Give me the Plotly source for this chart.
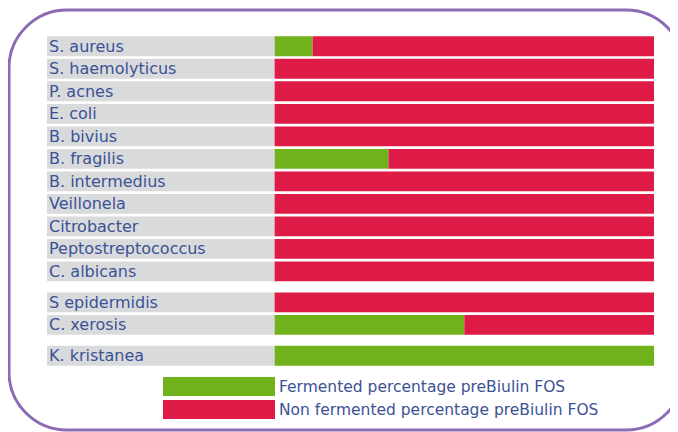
import plotly.graph_objects as go

# ---- data ----
groups = [
    ["S. aureus", "S. haemolyticus", "P. acnes", "E. coli", "B. bivius",
     "B. fragilis", "B. intermedius", "Veillonela", "Citrobacter",
     "Peptostreptococcus", "C. albicans"],
    ["S epidermidis", "C. xerosis"],
    ["K. kristanea"],
]
fermented = [10, 0, 0, 0, 0, 30, 0, 0, 0, 0, 0, 0, 50, 100]
series_names = ["Fermented percentage preBiulin FOS",
                "Non fermented percentage preBiulin FOS"]

# ---- styling ----
GREEN = "#70b21b"
RED = "#de1a46"
GRAY = "#d9dadc"
TEXT = "#3b5295"
PURPLE = "#8a6bb4"
FONT = "DejaVu Sans"
FS = 16
FS_LEG = 15.5
GAP = 0.375
LABEL_SPAN = 60
OFF = 8  # page body margin

categories = []
ypos = []
p = 0.0
for gi, g in enumerate(groups):
    if gi > 0:
        p += GAP
    for c in g:
        categories.append(c)
        ypos.append(p)
        p += 1
non_fermented = [100 - v for v in fermented]

W, H = 678 - OFF, 432 - OFF
ML, MT = 47 - OFF, 35 - OFF
MR = W - (654 - OFF)
MB = H - (367 - OFF)
PW, PH = W - ML - MR, H - MT - MB

fig = go.Figure()
fig.add_trace(go.Bar(y=ypos, x=[LABEL_SPAN] * len(ypos), base=[-LABEL_SPAN] * len(ypos),
                     orientation="h", marker=dict(color=GRAY, line=dict(width=0)),
                     width=0.88, showlegend=False, hoverinfo="skip"))
fig.add_trace(go.Bar(y=ypos, x=fermented, orientation="h", name=series_names[0],
                     marker=dict(color=GREEN, line=dict(width=0)), width=0.88,
                     showlegend=False))
fig.add_trace(go.Bar(y=ypos, x=non_fermented, base=fermented, orientation="h",
                     name=series_names[1],
                     marker=dict(color=RED, line=dict(width=0)), width=0.88,
                     showlegend=False))

for c, y in zip(categories, ypos):
    fig.add_annotation(x=-LABEL_SPAN, y=y, xref="x", yref="y", text=c,
                       showarrow=False, xanchor="left", yanchor="middle",
                       font=dict(family=FONT, size=FS, color=TEXT))


def px2paper(px, py):
    # px, py in reference-page pixels
    return (px - OFF - ML) / PW, (H - MB - (py - OFF)) / PH


def pt(px, py):
    x, y = px2paper(px, py)
    return f"{x:.5f},{y:.5f}"


# rounded border
L_, T_, R_, B_ = 9, 10, 684, 430
r = 58
k = 0.5523 * r
path = (f"M {pt(L_ + r, T_)} L {pt(R_ - r, T_)} "
        f"C {pt(R_ - r + k, T_)} {pt(R_, T_ + r - k)} {pt(R_, T_ + r)} "
        f"L {pt(R_, B_ - r)} "
        f"C {pt(R_, B_ - r + k)} {pt(R_ - r + k, B_)} {pt(R_ - r, B_)} "
        f"L {pt(L_ + r, B_)} "
        f"C {pt(L_ + r - k, B_)} {pt(L_, B_ - r + k)} {pt(L_, B_ - r)} "
        f"L {pt(L_, T_ + r)} "
        f"C {pt(L_, T_ + r - k)} {pt(L_ + r - k, T_)} {pt(L_ + r, T_)} Z")
fig.add_shape(type="path", path=path, xref="paper", yref="paper",
              line=dict(color=PURPLE, width=3), layer="below")

# legend (manual, large swatches)
for i, (name, col) in enumerate(zip(series_names, [GREEN, RED])):
    top = 377 + i * 23
    x0, y1 = px2paper(163, top)
    x1, y0 = px2paper(275, top + 19)
    fig.add_shape(type="rect", xref="paper", yref="paper", x0=x0, x1=x1,
                  y0=y0, y1=y1, fillcolor=col, line=dict(width=0))
    tx, ty = px2paper(277, top + 9.5)
    fig.add_annotation(x=tx, y=ty, xref="paper", yref="paper", text=name,
                       showarrow=False, xanchor="left", yanchor="middle",
                       font=dict(family=FONT, size=FS_LEG, color=TEXT))

fig.update_layout(
    width=W, height=H, barmode="overlay",
    margin=dict(l=ML, r=MR, t=MT, b=MB),
    paper_bgcolor="white", plot_bgcolor="white",
    xaxis=dict(range=[-LABEL_SPAN, 100], showgrid=False, zeroline=False,
               showticklabels=False, fixedrange=True),
    yaxis=dict(range=[ypos[-1] + 0.5, -0.5], showgrid=False, zeroline=False,
               showticklabels=False, fixedrange=True),
    showlegend=False,
)

fig.write_html("out.html")
